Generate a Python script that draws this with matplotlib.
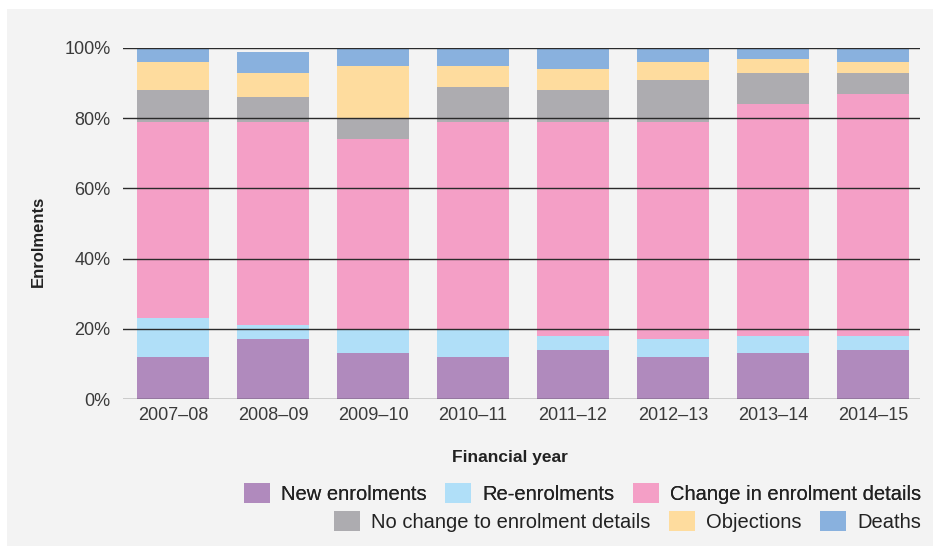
import matplotlib
matplotlib.use('Agg')
from matplotlib import pyplot as plt
from matplotlib.patches import Patch, Rectangle
import numpy as np

plt.rcParams['font.family'] = ['Liberation Sans', 'DejaVu Sans']

anos = ['2007–08', '2008–09', '2009–10', '2010–11', '2011–12', '2012–13', '2013–14', '2014–15']

# percentuais de cada tipo de registro
novos = [12, 17, 13, 12, 14, 12, 13, 14]
reinscricoes = [11, 4, 7, 8, 4, 5, 5, 4]
mudanca = [56, 58, 54, 59, 61, 62, 66, 69]
sem_mudanca = [9, 7, 6, 10, 9, 12, 9, 6]
objecoes = [8, 7, 15, 6, 6, 5, 4, 3]
mortes = [4, 6, 5, 5, 6, 4, 3, 4]

series = [novos, reinscricoes, mudanca, sem_mudanca, objecoes, mortes]
nomes = ['New enrolments', 'Re-enrolments', 'Change in enrolment details',
         'No change to enrolment details', 'Objections', 'Deaths']
cores = ['#b08abd', '#b0dff8', '#f49fc6', '#adacb0', '#fedc9e', '#89b1de']

fundo = '#f3f3f3'

fig1 = plt.figure(figsize=(9.33, 5.47), dpi=100)
fig1.patch.set_facecolor('white')
fig1.patches.append(Rectangle((7/933, 1/547), 1 - 7/933, 1 - 10/547,
                              transform=fig1.transFigure, facecolor=fundo,
                              edgecolor='none', zorder=-10))

ax1 = fig1.add_axes([123/933, 1 - 399/547, (920 - 123)/933, (399 - 48)/547])
ax1.set_facecolor(fundo)

x = np.arange(len(anos))
base = np.zeros(len(anos))
for valores, nome, cor in zip(series, nomes, cores):
    ax1.bar(x, valores, bottom=base, width=0.72, color=cor, label=nome, zorder=2)
    base = base + np.array(valores)

# Configuração de ax1
ax1.set_ylim(0, 100)
ax1.set_xlim(-0.5, 7.47)
ax1.set_yticks(np.arange(0, 101, 20))
ax1.set_yticklabels([f'{v}%' for v in range(0, 101, 20)])
ax1.set_xticks(x)
ax1.set_xticklabels(anos)
ax1.tick_params(axis='both', length=0, labelsize=13, labelcolor='#3a3a3a')
ax1.tick_params(axis='y', pad=9)
ax1.tick_params(axis='x', pad=6)
for v in range(0, 101, 20):
    ax1.axhline(v, color='#2a2a2a', linewidth=1, zorder=3)
for s in ax1.spines.values():
    s.set_visible(False)

ax1.set_ylabel('Enrolments', fontsize=12, fontweight='bold', color='#222222')
ax1.yaxis.set_label_coords(-0.097, 0.45)
ax1.set_xlabel('Financial year', fontsize=12.5, fontweight='bold', color='#222222')
ax1.xaxis.set_label_coords(0.486, -0.145)

# legenda em duas linhas alinhadas à direita
h = [Patch(facecolor=c, edgecolor='none') for c in cores]
opcoes = dict(ncol=3, loc='lower right', frameon=False, fontsize=14.5,
              handlelength=1.3, handleheight=1.2, handletextpad=0.55,
              columnspacing=0.9, borderpad=0, labelcolor='#222222')
leg1 = fig1.legend(h[:3], nomes[:3], bbox_to_anchor=(931/933, 1 - 514/547), **opcoes)
leg2 = fig1.legend(h[3:], nomes[3:], bbox_to_anchor=(931/933, 1 - 542/547), **opcoes)
fig1.add_artist(leg1)

fig1.savefig('out.png', dpi=100, facecolor=fig1.get_facecolor())
